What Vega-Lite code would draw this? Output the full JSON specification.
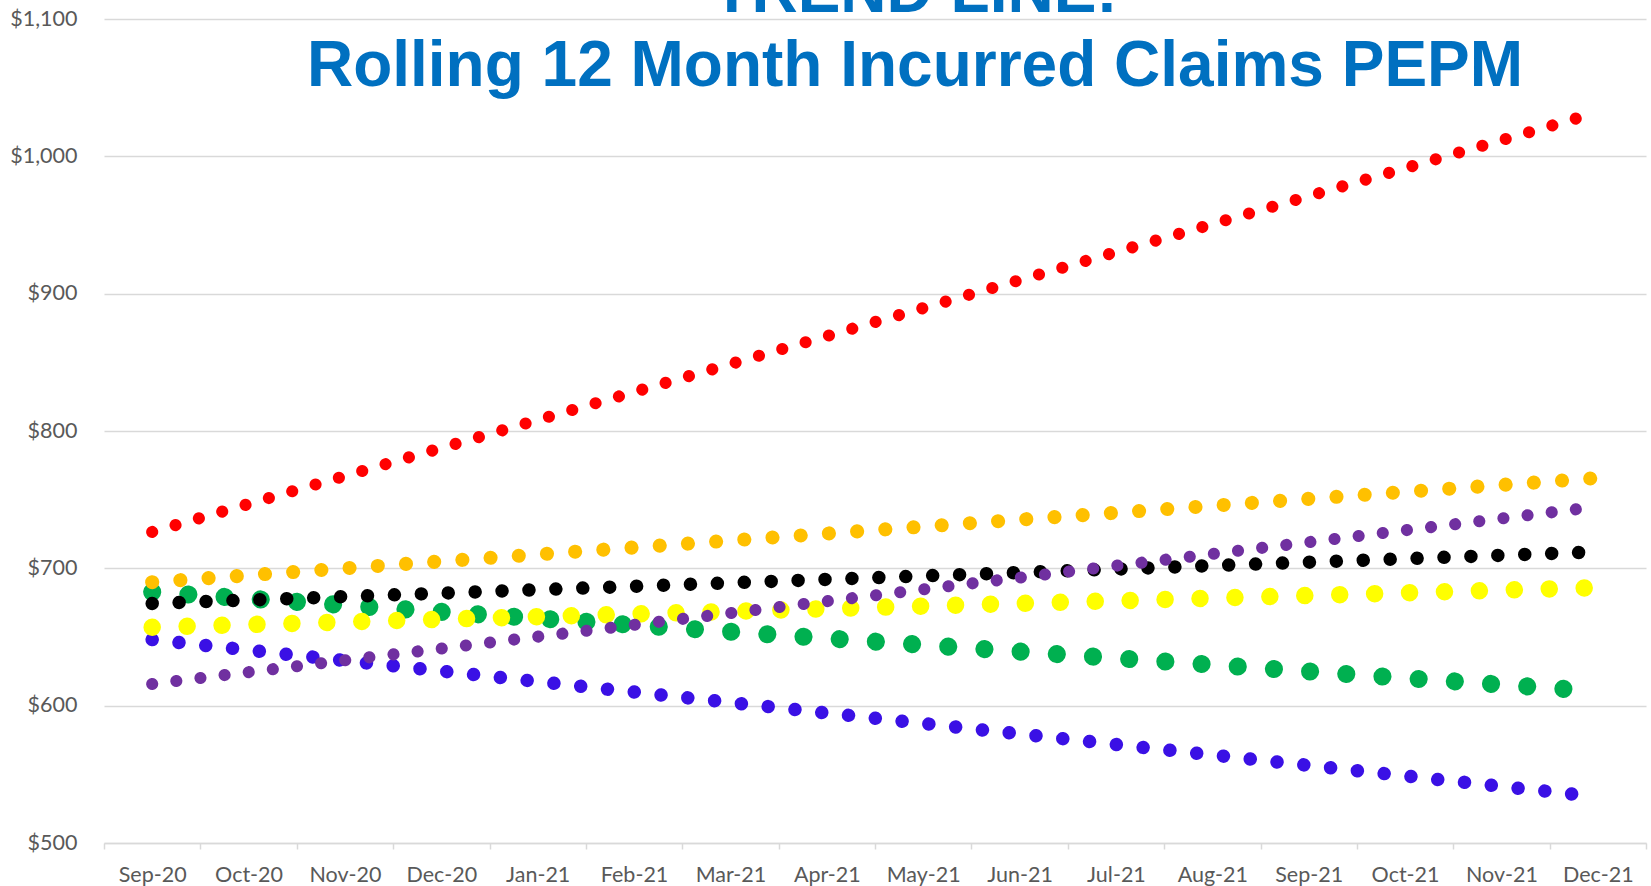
{
  "$schema": "https://vega.github.io/schema/vega-lite/v6.json",
  "width": 1542,
  "height": 824,
  "autosize": {"type": "none"},
  "padding": {"left": 104, "top": 19, "right": 5, "bottom": 43},
  "background": "white",
  "config": {"view": {"stroke": null}},
  "title": {
    "text": "TREND LINE:",
    "subtitle": "Rolling 12 Month Incurred Claims PEPM",
    "anchor": "middle",
    "frame": "group",
    "font": "Liberation Sans",
    "fontSize": 64,
    "fontWeight": "bold",
    "color": "#0070C0",
    "subtitleFont": "Liberation Sans",
    "subtitleFontSize": 64,
    "subtitleFontWeight": "bold",
    "subtitleColor": "#0070C0",
    "subtitlePadding": 10,
    "offset": -91,
    "dx": 40
  },
  "data": {
    "values": [
      {"month": "Sep-20", "series": "Green", "value": 682.8},
      {"month": "Dec-21", "series": "Green", "value": 610.5},
      {"month": "Sep-20", "series": "Blue", "value": 648.1},
      {"month": "Dec-21", "series": "Blue", "value": 533.6},
      {"month": "Sep-20", "series": "Red", "value": 726.5},
      {"month": "Dec-21", "series": "Red", "value": 1032.1},
      {"month": "Sep-20", "series": "Orange", "value": 689.9},
      {"month": "Dec-21", "series": "Orange", "value": 765.8},
      {"month": "Sep-20", "series": "Black", "value": 674.4},
      {"month": "Dec-21", "series": "Black", "value": 712.0},
      {"month": "Sep-20", "series": "Yellow", "value": 657.1},
      {"month": "Dec-21", "series": "Yellow", "value": 686.0},
      {"month": "Sep-20", "series": "Purple", "value": 615.8},
      {"month": "Dec-21", "series": "Purple", "value": 744.9}
    ]
  },
  "encoding": {
    "x": {
      "field": "month",
      "type": "ordinal",
      "bandPosition": 0.5,
      "scale": {
        "type": "band",
        "paddingInner": 0,
        "paddingOuter": 0,
        "domain": ["Sep-20", "Oct-20", "Nov-20", "Dec-20", "Jan-21", "Feb-21", "Mar-21", "Apr-21", "May-21", "Jun-21", "Jul-21", "Aug-21", "Sep-21", "Oct-21", "Nov-21", "Dec-21"]
      },
      "axis": {
        "title": null,
        "labelAngle": 0,
        "labelFont": "Lato",
        "labelFontSize": 21.5,
        "labelColor": "#595959",
        "labelBaseline": "alphabetic",
        "labelPadding": 32,
        "tickBand": "extent",
        "tickSize": 6,
        "tickColor": "#D9D9D9",
        "tickWidth": 1.5,
        "domainColor": "#D9D9D9",
        "domainWidth": 1.5,
        "grid": false
      }
    },
    "y": {
      "field": "value",
      "type": "quantitative",
      "scale": {"domain": [500, 1100], "nice": false, "zero": false},
      "axis": {
        "title": null,
        "values": [500, 600, 700, 800, 900, 1000, 1100],
        "format": "$,.0f",
        "labelFont": "Lato",
        "labelFontSize": 21.5,
        "labelColor": "#595959",
        "labelPadding": 27,
        "ticks": false,
        "domain": false,
        "grid": true,
        "gridColor": "#D9D9D9",
        "gridWidth": 1.5
      }
    }
  },
  "layer": [
    {"transform": [{"filter": "datum.series === 'Green'"}], "mark": {"type": "line", "color": "#00B050", "strokeWidth": 18.1, "strokeCap": "round", "strokeDash": [0.01, 36.26]}},
    {"transform": [{"filter": "datum.series === 'Blue'"}], "mark": {"type": "line", "color": "#3A10E5", "strokeWidth": 13.5, "strokeCap": "round", "strokeDash": [0.01, 26.93]}},
    {"transform": [{"filter": "datum.series === 'Red'"}], "mark": {"type": "line", "color": "#FF0000", "strokeWidth": 12.1, "strokeCap": "round", "strokeDash": [0.01, 24.29]}},
    {"transform": [{"filter": "datum.series === 'Orange'"}], "mark": {"type": "line", "color": "#FFC000", "strokeWidth": 14.1, "strokeCap": "round", "strokeDash": [0.01, 28.26]}},
    {"transform": [{"filter": "datum.series === 'Black'"}], "mark": {"type": "line", "color": "#000000", "strokeWidth": 13.5, "strokeCap": "round", "strokeDash": [0.01, 26.92]}},
    {"transform": [{"filter": "datum.series === 'Yellow'"}], "mark": {"type": "line", "color": "#FFFF00", "strokeWidth": 17.5, "strokeCap": "round", "strokeDash": [0.01, 34.93]}},
    {"transform": [{"filter": "datum.series === 'Purple'"}], "mark": {"type": "line", "color": "#7030A0", "strokeWidth": 12.1, "strokeCap": "round", "strokeDash": [0.01, 24.3]}}
  ]
}
